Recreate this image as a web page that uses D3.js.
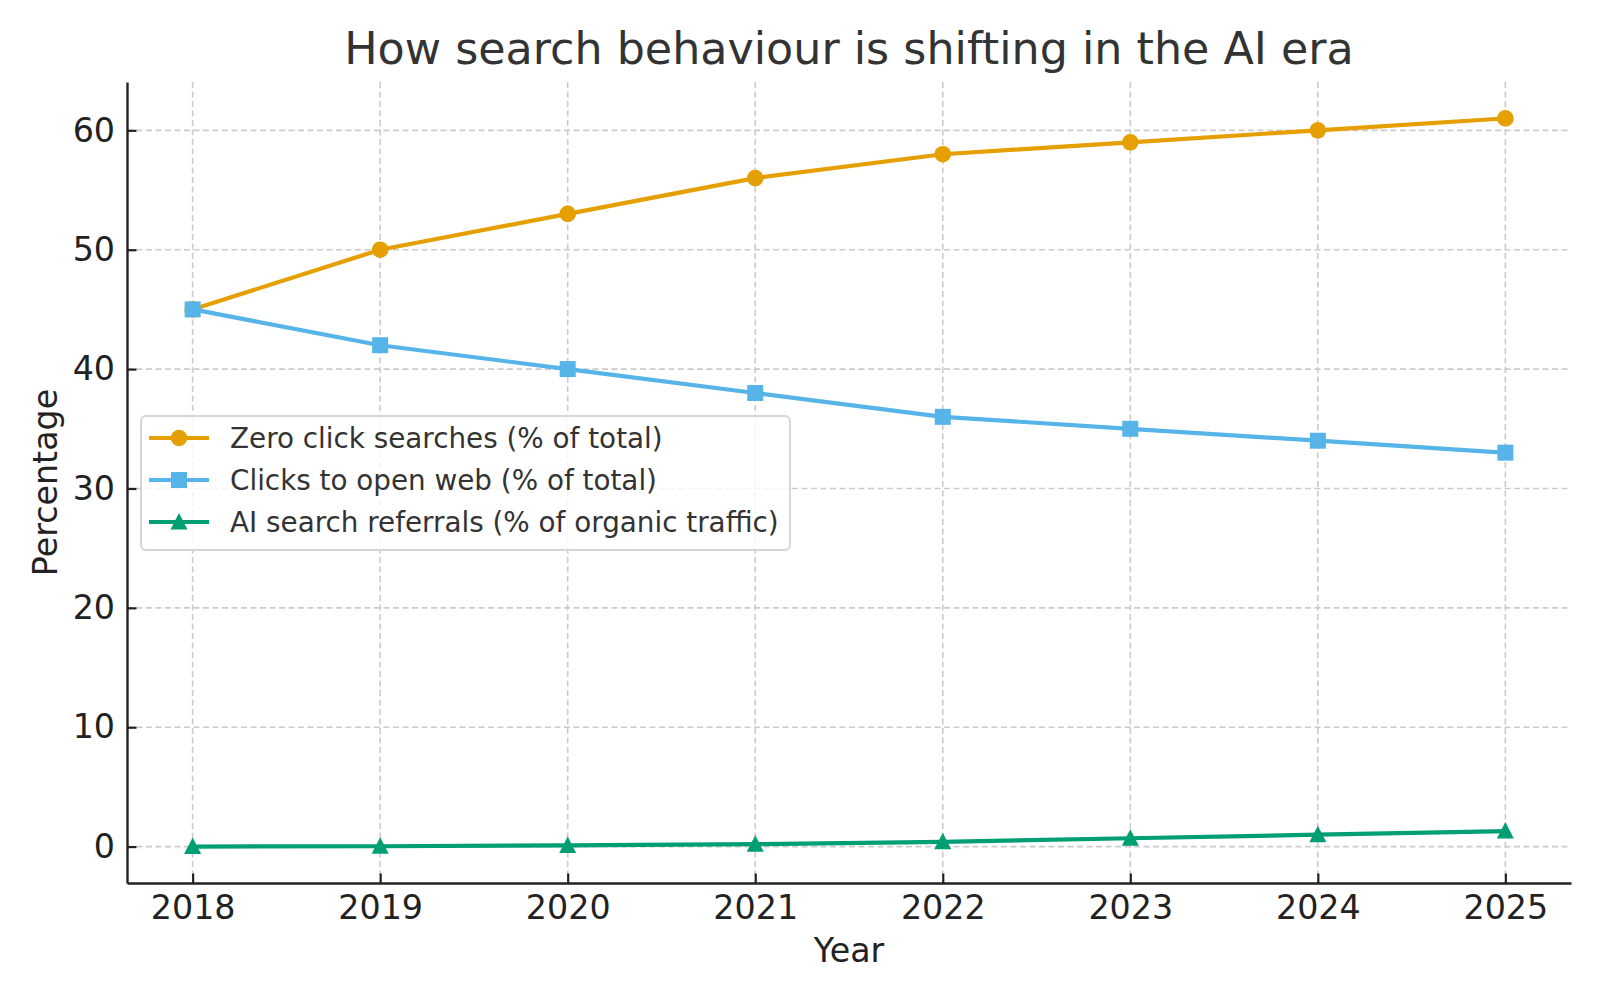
<!DOCTYPE html>
<html>
<head>
<meta charset="utf-8">
<script src="https://cdn.jsdelivr.net/npm/d3@7"></script>
<style>
    body { margin: 0; background: #fff; }
    svg { display: block; font-family: "DejaVu Sans", sans-serif; }
</style>
</head>
<body>
<div id="chart"></div>
<script>
// data
var years = [2018, 2019, 2020, 2021, 2022, 2023, 2024, 2025];
var zeroClick = [45, 50, 53, 56, 58, 59, 60, 61];
var openWeb = [45, 42, 40, 38, 36, 35, 34, 33];
var aiReferrals = [0, 0.03, 0.1, 0.2, 0.4, 0.7, 1.0, 1.3];
var yTicks = [0, 10, 20, 30, 40, 50, 60];

var seriesNames = ["Zero click searches (% of total)", "Clicks to open web (% of total)", "AI search referrals (% of organic traffic)"];
var seriesColors = ["#E69F00", "#56B4E9", "#009E73"];
var seriesMarkers = ["circle", "square", "triangle"];

drawChart();

function drawChart() {
    const width = 1600;
    const height = 1000;
    const margin = { top: 82, right: 29, bottom: 117, left: 127 };

    const svg = d3.select("#chart").append("svg")
        .attr("width", width)
        .attr("height", height);

    const x = d3.scaleLinear()
        .domain([2017.65, 2025.35])
        .range([margin.left, width - margin.right]);

    const y = d3.scaleLinear()
        .domain([-3.05, 64.05])
        .range([height - margin.bottom, margin.top]);

    // grid
    const grid = svg.append("g");
    grid.selectAll(".vgrid")
        .data(years)
        .enter()
        .append("line")
        .attr("x1", d => x(d)).attr("x2", d => x(d))
        .attr("y1", margin.top).attr("y2", height - margin.bottom)
        .attr("stroke", "#cbcbcb").attr("stroke-width", 1.6)
        .attr("stroke-dasharray", "6,3.5");
    grid.selectAll(".hgrid")
        .data(yTicks)
        .enter()
        .append("line")
        .attr("x1", margin.left).attr("x2", width - margin.right)
        .attr("y1", d => y(d)).attr("y2", d => y(d))
        .attr("stroke", "#cbcbcb").attr("stroke-width", 1.6)
        .attr("stroke-dasharray", "6,3.5");

    // axes (ticks point inward)
    const xAxis = svg.append("g")
        .attr("transform", `translate(0,${height - margin.bottom})`)
        .call(d3.axisBottom(x).tickValues(years).tickFormat(d3.format("d")).tickSizeInner(-9.5).tickSizeOuter(0).tickPadding(12));
    const yAxis = svg.append("g")
        .attr("transform", `translate(${margin.left},0)`)
        .call(d3.axisLeft(y).tickValues(yTicks).tickSizeInner(-9.5).tickSizeOuter(0).tickPadding(12));

    [xAxis, yAxis].forEach(function(ax) {
        ax.select(".domain").attr("stroke", "#222").attr("stroke-width", 2.4);
        ax.selectAll(".tick line").attr("stroke", "#222").attr("stroke-width", 2.2);
        ax.selectAll(".tick text")
            .attr("fill", "#222")
            .style("font-size", "33.3px")
            .style("font-family", "DejaVu Sans, sans-serif");
    });

    // lines + markers
    var allSeries = [zeroClick, openWeb, aiReferrals];
    var line = d3.line()
        .x((d, i) => x(years[i]))
        .y(d => y(d));

    allSeries.forEach(function(values, s) {
        svg.append("path")
            .datum(values)
            .attr("fill", "none")
            .attr("stroke", seriesColors[s])
            .attr("stroke-width", 4.2)
            .attr("stroke-linejoin", "round")
            .attr("stroke-linecap", "square")
            .attr("d", line);

        values.forEach(function(v, i) {
            drawMarker(svg, seriesMarkers[s], x(years[i]), y(v), seriesColors[s]);
        });
    });

    // title
    svg.append("text")
        .attr("x", (margin.left + width - margin.right) / 2)
        .attr("y", 64)
        .attr("text-anchor", "middle")
        .attr("fill", "#333")
        .style("font-size", "44.4px")
        .text("How search behaviour is shifting in the AI era");

    // axis labels
    svg.append("text")
        .attr("x", (margin.left + width - margin.right) / 2)
        .attr("y", 962)
        .attr("text-anchor", "middle")
        .attr("fill", "#222")
        .style("font-size", "33.3px")
        .text("Year");

    svg.append("text")
        .attr("transform", `translate(57,${(margin.top + height - margin.bottom) / 2}) rotate(-90)`)
        .attr("text-anchor", "middle")
        .attr("fill", "#222")
        .style("font-size", "33.3px")
        .text("Percentage");

    // legend
    const legend = svg.append("g");
    legend.append("rect")
        .attr("x", 141).attr("y", 416)
        .attr("width", 649).attr("height", 134)
        .attr("rx", 5)
        .attr("fill", "#fff").attr("fill-opacity", 0.8)
        .attr("stroke", "#d6d6d6").attr("stroke-width", 2);

    seriesNames.forEach(function(name, s) {
        let ly = 438 + s * 42;
        legend.append("line")
            .attr("x1", 149).attr("x2", 209)
            .attr("y1", ly).attr("y2", ly)
            .attr("stroke", seriesColors[s]).attr("stroke-width", 4.2);
        drawMarker(legend, seriesMarkers[s], 179, ly, seriesColors[s]);
        legend.append("text")
            .attr("x", 230).attr("y", ly)
            .attr("dy", "0.36em")
            .attr("fill", "#333")
            .style("font-size", "27.8px")
            .text(name);
    });
}

// draws one marker of the given kind
function drawMarker(target, kind, cx, cy, color) {
    switch(kind) {
        case "circle":
            target.append("circle")
                .attr("cx", cx).attr("cy", cy).attr("r", 8.3)
                .attr("fill", color);
            break;
        case "square":
            target.append("rect")
                .attr("x", cx - 8).attr("y", cy - 8)
                .attr("width", 16).attr("height", 16)
                .attr("fill", color);
            break;
        case "triangle":
            target.append("path")
                .attr("d", `M${cx},${cy - 9}L${cx + 8.5},${cy + 7.5}L${cx - 8.5},${cy + 7.5}Z`)
                .attr("fill", color);
            break;
    }
}
</script>
</body>
</html>
